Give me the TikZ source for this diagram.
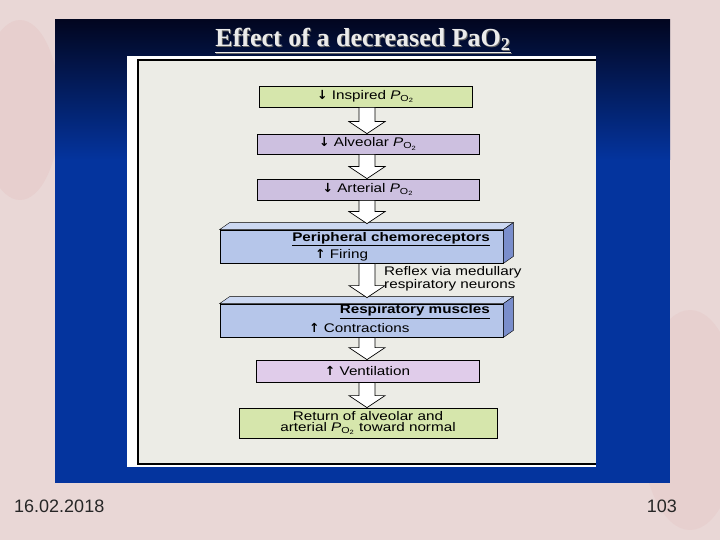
\documentclass[tikz,border=0pt]{standalone}
\usepackage{fontspec}
\setmainfont{Liberation Sans}
\newfontfamily\titlefont{Liberation Serif}
\newfontfamily\boxfont[FakeStretch=1.22]{Liberation Sans}
\newfontfamily\arrowfont{DejaVu Sans}
\usetikzlibrary{calc}
\definecolor{slidepink}{RGB}{233,215,214}
\definecolor{swirlred}{RGB}{222,150,150}
\definecolor{navytop}{RGB}{2,6,32}
\definecolor{panelblue}{RGB}{4,52,158}
\definecolor{figgray}{RGB}{236,236,230}
\definecolor{boxgreen}{RGB}{214,230,172}
\definecolor{boxlilac}{RGB}{205,192,224}
\definecolor{boxpink}{RGB}{224,204,234}
\definecolor{boxblue}{RGB}{182,198,234}
\definecolor{boxbluetop}{RGB}{204,216,242}
\definecolor{boxblueside}{RGB}{122,142,204}
\newcommand{\POtwo}{\textit{P}\textsubscript{O\textsubscript{2}}}
\newcommand{\dnarr}{{\arrowfont\bfseries ↓}}
\newcommand{\uparr}{{\arrowfont\bfseries ↑}}
\newcommand{\blockarrow}[2]{%
  \draw[blockarr] ($(axis |- #1)+(-8,0)$) -- ($(axis |- #2)+(-8,-12)$) -- ($(axis |- #2)+(-18,-12)$)
    -- (axis |- #2) -- ($(axis |- #2)+(18,-12)$) -- ($(axis |- #2)+(8,-12)$) -- ($(axis |- #1)+(8,0)$) -- cycle;}
\newcommand{\boxdepth}[1]{%
  \draw[thin, fill=boxbluetop] (#1.north west) -- ++(10,-7) -- ($(#1.north east)+(10,-7)$) -- (#1.north east) -- cycle;
  \draw[thin, fill=boxblueside] (#1.north east) -- ++(10,-7) -- ($(#1.south east)+(10,-7)$) -- (#1.south east) -- cycle;}
\tikzset{
  flatbox/.style={draw=black, line width=0.8pt, minimum height=21pt, inner sep=0pt, font=\boxfont\fontsize{12.5}{13.5}\selectfont},
  solidbox/.style={draw=black, line width=0.8pt, fill=boxblue, minimum width=283pt, minimum height=33pt, inner sep=0pt},
  boxtext/.style={inner sep=0pt, font=\boxfont\fontsize{12.5}{13.5}\selectfont},
  boxhead/.style={boxtext, font=\boxfont\bfseries\fontsize{12.5}{13.5}\selectfont},
  blockarr/.style={draw=black, line width=0.7pt, fill=white, line join=miter},
  foot/.style={inner sep=0pt, text=black!85, font=\fontsize{18}{20}\selectfont}
}
\begin{document}
\begin{tikzpicture}[x=1pt,y=-1pt]
\useasboundingbox (0,0) rectangle (720,540);
\fill[slidepink] (0,0) rectangle (720,540);
\fill[swirlred, opacity=0.12] (20,110) ellipse (40 and 90);
\fill[swirlred, opacity=0.1] (690,420) ellipse (50 and 110);
\shade[top color=navytop, bottom color=panelblue] (55,20) rectangle (670,160);
\fill[panelblue] (55,160) rectangle (670,483);
\fill[white] (127,56) rectangle (596,467);
\fill[figgray] (138,60) rectangle (596,464);
\draw[line width=1.2pt] (596,60) -- (138,60) -- (138,464) -- (596,464);
\node[anchor=base, text=black!60, inner sep=0pt, font=\titlefont\bfseries\fontsize{26}{30}\selectfont] at (364,48) {\underline{Effect of a decreased PaO\textsubscript{2}}};
\node[anchor=base, text=white!92!black, inner sep=0pt, font=\titlefont\bfseries\fontsize{26}{30}\selectfont] (title) at (363,47) {\underline{Effect of a decreased PaO\textsubscript{2}}};
\coordinate (axis) at (367,0);
\node[flatbox, fill=boxgreen, minimum width=213pt] (ins) at (365.5,96.5) {\dnarr\ Inspired \POtwo};
\node[flatbox, fill=boxlilac, minimum width=222pt, minimum height=20pt] (alv) at (368,144) {\dnarr\ Alveolar \POtwo};
\node[flatbox, fill=boxlilac, minimum width=222pt] (art) at (368,189.5) {\dnarr\ Arterial \POtwo};
\node[solidbox] (pc) at (361.5,246.5) {};
\boxdepth{pc}
\node[boxhead, anchor=east] (pchead) at (490,239) {\underline{Peripheral chemoreceptors}};
\node[boxtext, anchor=west] (pcfire) at (315,255.5) {\uparr\ Firing};
\node[boxtext, anchor=north west, align=left] (reflex) at (384,266) {Reflex via medullary\\respiratory neurons};
\node[solidbox] (rm) at (361.5,320.5) {};
\boxdepth{rm}
\node[boxhead, anchor=east] (rmhead) at (490,311.5) {\underline{Respiratory muscles}};
\node[boxtext, anchor=west] (rmcon) at (309,328) {\uparr\ Contractions};
\node[flatbox, fill=boxpink, minimum width=223pt, minimum height=22pt] (vent) at (367.5,371) {\uparr\ Ventilation};
\node[flatbox, fill=boxgreen, minimum width=258pt, minimum height=30pt, align=center] (ret) at (368,423) {Return of alveolar and\\[-2pt]arterial \POtwo\ toward normal};
\coordinate (pctop) at ($(pc.north)+(0,-6)$);
\coordinate (rmtop) at ($(rm.north)+(0,-6)$);
\blockarrow{ins.south}{alv.north}
\blockarrow{alv.south}{art.north}
\blockarrow{art.south}{pctop}
\blockarrow{pc.south}{rmtop}
\blockarrow{rm.south}{vent.north}
\blockarrow{vent.south}{ret.north}
\node[foot, anchor=base west] (date) at (14,512) {16.02.2018};
\node[foot, anchor=base east] (page) at (677,512) {103};
\end{tikzpicture}
\end{document}
